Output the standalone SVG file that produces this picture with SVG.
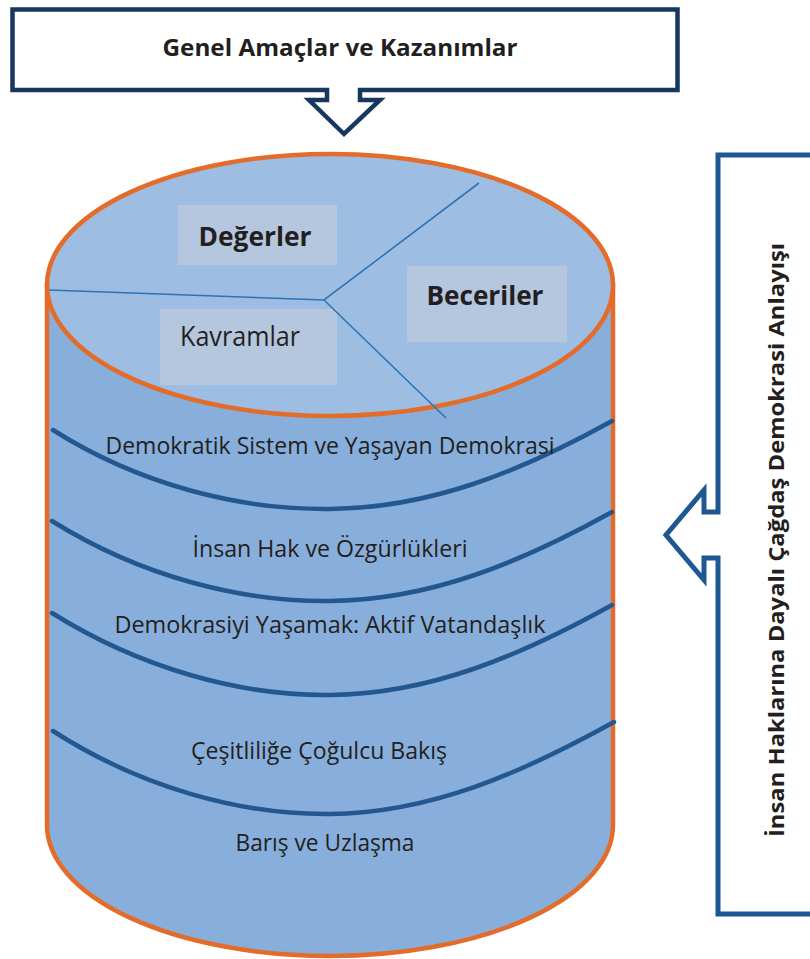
<svg xmlns="http://www.w3.org/2000/svg" width="810" height="959" viewBox="0 0 810 959">
<style>
text{font-family:"Open Sans","Liberation Sans",sans-serif;fill:#231F20}
.b{font-weight:bold}
.lay{font-size:23.5px;text-anchor:middle}
.lbl{font-size:27px;text-anchor:middle}
.wave{fill:none;stroke:#22578F;stroke-width:4.5;stroke-linecap:round}
.split{stroke:#2E74B5;stroke-width:1.6;fill:none}
.tag{fill:#B5C7DF}
</style>
<rect width="810" height="959" fill="#FFFFFF"/>
<g id="genel">
<path d="M12.5,9.5 H677.5 V90 H360 V100 H380 L344,134 L309,100 H327 V90 H12.5 Z" fill="#FFFFFF" stroke="#17375E" stroke-width="4.5" stroke-linejoin="miter"/>
<text class="b" x="340" y="56" font-size="24" text-anchor="middle" textLength="355" lengthAdjust="spacingAndGlyphs">Genel Amaçlar ve Kazanımlar</text>
</g>
<g id="cylinder">
<path d="M47,285 V825 A283,131 0 0 0 613,825 V285 Z" fill="#88AEDC" stroke="#E46C2A" stroke-width="4.5"/>
<ellipse cx="330" cy="285" rx="283" ry="131" fill="#9DBDE3" stroke="#E46C2A" stroke-width="4.5"/>
</g>
<g id="top-sections">
<rect class="tag" x="178" y="205" width="159" height="60"/>
<rect class="tag" x="407" y="266" width="160" height="76"/>
<rect class="tag" x="160" y="309" width="177" height="76"/>
<path class="split" d="M49,290 L324,300 L479,183 M324,300 L446,418"/>
</g>
<g id="degerler"><text class="b lbl" x="255" y="246" textLength="113" lengthAdjust="spacingAndGlyphs">Değerler</text></g>
<g id="beceriler"><text class="b lbl" x="485" y="305" textLength="117" lengthAdjust="spacingAndGlyphs">Beceriler</text></g>
<g id="kavramlar"><text class="lbl" x="240" y="346" textLength="120" lengthAdjust="spacingAndGlyphs">Kavramlar</text></g>
<g id="layers">
<path class="wave" d="M53,430 C140,485 240,510 330,509 C430,508 520,472 612,421" stroke="#133863"/>
<path class="wave" d="M52,521 C140,576 240,602 330,601 C430,600 520,563 612,512"/>
<path class="wave" d="M52,613 C140,668 240,696 330,695 C430,694 520,656 612,605"/>
<path class="wave" d="M53,731 C140,787 240,815 330,814 C430,813 520,774 614,722"/>
</g>
<g id="layer1"><text class="lay" x="330" y="454" textLength="449" lengthAdjust="spacingAndGlyphs">Demokratik Sistem ve Yaşayan Demokrasi</text></g>
<g id="layer2"><text class="lay" x="330" y="557" textLength="275" lengthAdjust="spacingAndGlyphs">İnsan Hak ve Özgürlükleri</text></g>
<g id="layer3"><text class="lay" x="330" y="633" textLength="431" lengthAdjust="spacingAndGlyphs">Demokrasiyi Yaşamak: Aktif Vatandaşlık</text></g>
<g id="layer4"><text class="lay" x="319" y="759" textLength="256" lengthAdjust="spacingAndGlyphs">Çeşitliliğe Çoğulcu Bakış</text></g>
<g id="layer5"><text class="lay" x="325" y="851" textLength="179" lengthAdjust="spacingAndGlyphs">Barış ve Uzlaşma</text></g>
<g id="anlayis">
<path d="M812,155 H718 V512 H704 V490 L666,535 L704,580 V558 H718 V914 H812" fill="none" stroke="#1F5792" stroke-width="5"/>
<text class="b" transform="translate(784,540) rotate(-90)" x="0" y="0" font-size="21.5" text-anchor="middle" textLength="594" lengthAdjust="spacingAndGlyphs">İnsan Haklarına Dayalı Çağdaş Demokrasi Anlayışı</text>
</g>
</svg>
